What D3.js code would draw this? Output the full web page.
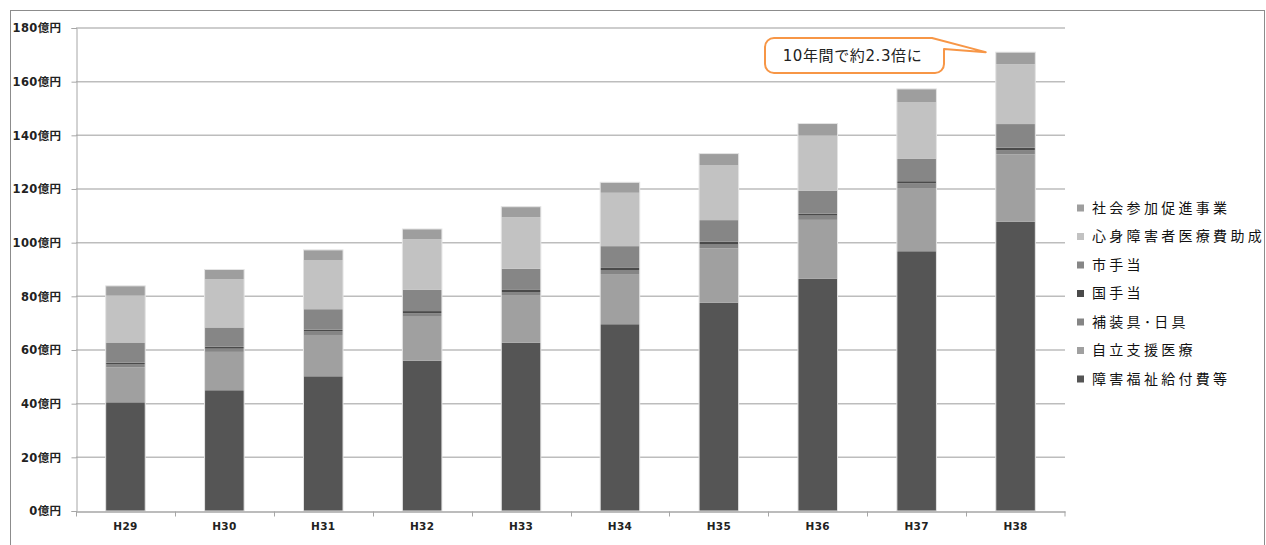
<!DOCTYPE html>
<html>
<head>
<meta charset="utf-8">
<script src="https://cdn.jsdelivr.net/npm/d3@7"></script>
<style>
  body { margin: 0; background: #fff; }
  svg { display: block; }
  text { font-family: "DejaVu Sans", "Noto Sans CJK JP", sans-serif; }
</style>
</head>
<body>
<svg id="chart" width="1266" height="545"></svg>
<script>
// categories (fiscal years)
var years = ['H29', 'H30', 'H31', 'H32', 'H33', 'H34', 'H35', 'H36', 'H37', 'H38'];

// series values, 億円 (bottom of the stack first)
var fukushi   = [40.5, 45.0, 50.2, 56.0, 62.7, 69.6, 77.6, 86.6, 96.8, 107.8]; // 障害福祉給付費等
var jiritsu   = [13.0, 14.3, 15.4, 16.4, 17.6, 18.7, 20.3, 21.9, 23.5, 25.1];  // 自立支援医療
var hosogu    = [1.1, 1.2, 1.3, 1.3, 1.3, 1.5, 1.6, 1.6, 1.8, 1.6];           // 補装具・日具
var kuniTeate = [0.7, 0.7, 0.7, 0.8, 0.8, 0.8, 0.9, 0.7, 0.8, 0.9];           // 国手当
var shiTeate  = [7.5, 7.2, 7.6, 7.9, 7.9, 8.1, 8.0, 8.6, 8.3, 8.8];           // 市手当
var shinshin  = [17.5, 18.0, 18.2, 18.9, 19.2, 19.9, 20.4, 20.6, 21.2, 22.3];  // 心身障害者医療費助成
var shakai    = [3.6, 3.6, 3.9, 3.8, 3.9, 3.9, 4.4, 4.4, 4.9, 4.5];           // 社会参加促進事業

var seriesNames = ['障害福祉給付費等', '自立支援医療', '補装具･日具', '国手当', '市手当', '心身障害者医療費助成', '社会参加促進事業'];
var seriesValues = [fukushi, jiritsu, hosogu, kuniTeate, shiTeate, shinshin, shakai];
var seriesColors = ['#555555', '#a0a0a0', '#858585', '#4a4a4a', '#868686', '#c2c2c2', '#9e9e9e'];

var yTicks = [0, 20, 40, 60, 80, 100, 120, 140, 160, 180];
var calloutText = '10年間で約2.3倍に';

var svg = d3.select('#chart');

// layout
var plot = {l: 76, r: 1065, t: 28, b: 511};

// build rows for d3.stack
var rows = years.map(function(y, i) {
    var row = {year: y};
    seriesNames.forEach(function(n, k) { row[n] = seriesValues[k][i]; });
    return row;
});
var stacked = d3.stack().keys(seriesNames)(rows);

var x = d3.scaleBand()
    .domain(years)
    .range([plot.l, plot.r])
    .paddingInner(0.6)
    .paddingOuter(0.3);
// band scale without padding, for the category boundary ticks
var xCat = d3.scaleBand().domain(years).range([plot.l, plot.r]);

var y = d3.scaleLinear()
    .domain([0, 180])
    .range([plot.b, plot.t]);

// outer frame
svg.append('rect')
    .attr('x', 10.5).attr('y', 10.5)
    .attr('width', 1254).attr('height', 560)
    .attr('fill', 'none')
    .attr('stroke', '#8c8c8c');

// gridlines
svg.append('g')
    .selectAll('line')
    .data(yTicks.filter(function(d) { return d > 0; }))
    .enter()
    .append('line')
    .attr('x1', plot.l).attr('x2', plot.r)
    .attr('y1', function(d) { return y(d); })
    .attr('y2', function(d) { return y(d); })
    .attr('stroke', '#bdbdbd')
    .attr('stroke-width', 1.5);

// y axis
var yAxis = d3.axisLeft(y)
    .tickValues(yTicks)
    .tickSize(5)
    .tickPadding(10)
    .tickFormat(function(d) { return d + '億円'; });
var yG = svg.append('g')
    .attr('transform', 'translate(' + (plot.l + 0.5) + ',0)')
    .call(yAxis);
yG.select('.domain').attr('stroke', '#a6a6a6');
yG.selectAll('.tick line').attr('stroke', '#a6a6a6');
yG.selectAll('.tick text')
    .style('font-size', '11.5px')
    .style('font-weight', 'bold')
    .style('letter-spacing', '0.4px')
    .attr('fill', '#222');

// bars
var layers = svg.append('g')
    .selectAll('g')
    .data(stacked)
    .enter()
    .append('g')
    .attr('fill', function(d, i) { return seriesColors[i]; });

layers.selectAll('rect')
    .data(function(d) { return d; })
    .enter()
    .append('rect')
    .attr('x', function(d) { return x(d.data.year); })
    .attr('y', function(d) { return y(d[1]); })
    .attr('width', x.bandwidth())
    .attr('height', function(d) { return y(d[0]) - y(d[1]); });

// faint outline around each bar
svg.append('g')
    .selectAll('rect')
    .data(stacked[stacked.length - 1])
    .enter()
    .append('rect')
    .attr('x', function(d) { return x(d.data.year); })
    .attr('y', function(d) { return y(d[1]); })
    .attr('width', x.bandwidth())
    .attr('height', function(d) { return y(0) - y(d[1]); })
    .attr('fill', 'none')
    .attr('stroke', '#e4e4e4')
    .attr('stroke-width', 1);

// x axis
var xAxis = d3.axisBottom(x).tickSize(0).tickPadding(11);
var xG = svg.append('g')
    .attr('transform', 'translate(0,' + (plot.b + 0.5) + ')')
    .call(xAxis);
xG.select('.domain').attr('stroke', '#a6a6a6').attr('stroke-width', 1.5);
xG.selectAll('.tick text')
    .style('font-size', '10.5px')
    .style('font-weight', 'bold')
    .style('letter-spacing', '0.3px')
    .attr('fill', '#222');
// boundary ticks between categories
xG.selectAll('.bound')
    .data(years.concat(['end']))
    .enter()
    .append('line')
    .attr('class', 'bound')
    .attr('x1', function(d) { return d === 'end' ? plot.r : Math.round(xCat(d)) + 0.5; })
    .attr('x2', function(d) { return d === 'end' ? plot.r : Math.round(xCat(d)) + 0.5; })
    .attr('y1', 0).attr('y2', 5)
    .attr('stroke', '#a6a6a6');

// legend (top entry = top of stack)
var legend = svg.append('g')
    .attr('transform', 'translate(1077,208)');
var legendItems = legend.selectAll('g')
    .data(seriesNames.slice().reverse())
    .enter()
    .append('g')
    .attr('transform', function(d, i) { return 'translate(0,' + (i * 28.5) + ')'; });
legendItems.append('rect')
    .attr('x', 0).attr('y', -3.5)
    .attr('width', 7).attr('height', 7)
    .attr('fill', function(d) { return seriesColors[seriesNames.indexOf(d)]; });
legendItems.append('text')
    .attr('x', 15)
    .attr('dy', '0.35em')
    .style('font-size', '14px')
    .style('letter-spacing', '3.3px')
    .attr('fill', '#111')
    .text(function(d) { return d; });

// callout
var c = {x: 765, y: 38, w: 179, h: 35, r: 9};
var tipX = x('H38') - 10, tipY = y(171);
var path = d3.path();
path.moveTo(c.x + c.r, c.y);
path.lineTo(c.x + c.w - 12, c.y);
path.lineTo(tipX, tipY);
path.lineTo(c.x + c.w, c.y + 11);
path.lineTo(c.x + c.w, c.y + c.h - c.r);
path.arcTo(c.x + c.w, c.y + c.h, c.x + c.w - c.r, c.y + c.h, c.r);
path.lineTo(c.x + c.r, c.y + c.h);
path.arcTo(c.x, c.y + c.h, c.x, c.y + c.h - c.r, c.r);
path.lineTo(c.x, c.y + c.r);
path.arcTo(c.x, c.y, c.x + c.r, c.y, c.r);
path.closePath();
svg.append('path')
    .attr('d', path.toString())
    .attr('fill', '#fff')
    .attr('stroke', '#f79646')
    .attr('stroke-width', 2)
    .attr('stroke-linejoin', 'round');
svg.append('text')
    .attr('x', c.x + c.w / 2 - 2)
    .attr('y', c.y + c.h / 2)
    .attr('dy', '0.35em')
    .attr('text-anchor', 'middle')
    .style('font-size', '15px')
    .style('letter-spacing', '0.6px')
    .attr('fill', '#222')
    .text(calloutText);
</script>
</body>
</html>
